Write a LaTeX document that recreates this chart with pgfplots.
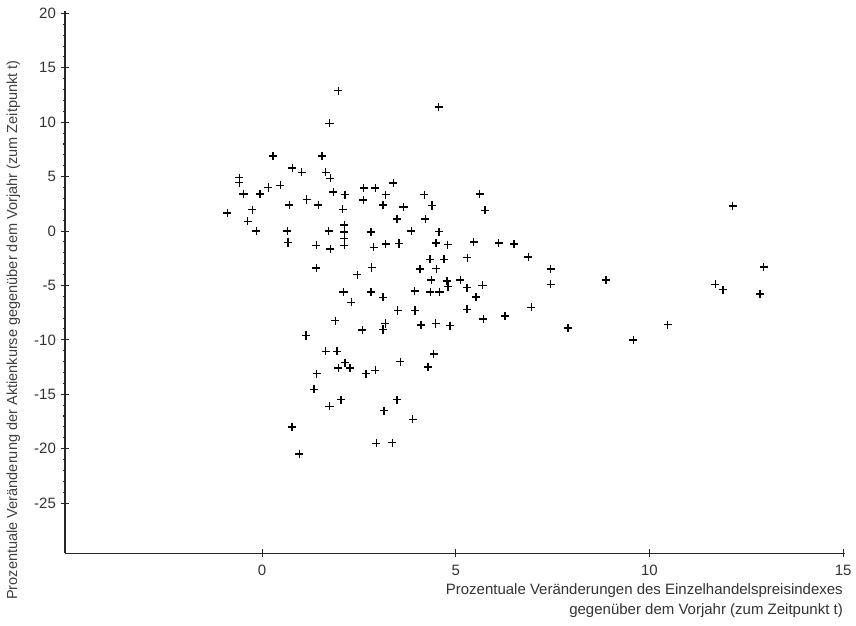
\documentclass[border=0pt]{standalone}
\usepackage{pgfplots}
\pgfplotsset{compat=1.18}
\usepackage{fontspec}
\setmainfont{Liberation Sans}
\pgfplotstableread{
x y
-0.90 1.65
-0.59 4.9
-0.59 4.45
-0.48 3.4
-0.37 0.9
-0.25 1.95
-0.15 0.0
-0.05 3.4
0.16 4.0
0.28 6.9
0.47 4.2
0.65 0.0
0.67 -1.05
0.70 2.4
0.78 5.8
1.02 5.4
1.15 2.9
1.40 -1.3
1.40 -3.4
1.45 2.4
1.55 6.9
1.64 5.4
1.72 0.0
1.74 9.9
1.76 4.85
1.76 -1.65
1.84 3.6
1.97 12.9
2.08 2.0
2.10 -5.6
2.12 0.55
2.12 -0.1
2.12 -0.7
2.12 -1.3
2.14 3.35
2.30 -6.55
2.46 -4.0
2.61 2.85
2.62 3.96
2.81 -0.1
2.81 -5.6
2.83 -3.35
2.88 -1.5
2.92 3.96
3.12 2.4
3.12 -6.1
3.19 3.35
3.19 -1.2
3.39 4.4
3.48 1.1
3.53 -1.15
3.65 2.2
3.85 0.0
3.94 -5.5
4.08 -3.5
4.19 3.35
4.21 1.1
4.33 -2.6
4.34 -5.6
4.37 -4.5
4.39 2.35
4.49 -1.1
4.50 -3.45
4.56 11.4
4.57 -0.05
4.58 -5.6
4.70 -2.6
4.77 -4.6
4.80 -5.1
4.79 -1.25
5.12 -4.5
5.29 -5.2
5.30 -2.45
5.46 -1.0
5.52 -6.05
5.62 3.4
5.69 -5.0
5.75 1.9
6.11 -1.1
6.50 -1.2
6.87 -2.4
7.45 -3.5
7.45 -4.9
8.88 -4.5
6.95 -7.0
6.27 -7.8
5.71 -8.1
7.90 -8.9
9.58 -10.0
10.47 -8.6
12.15 2.3
12.95 -3.3
11.70 -4.9
11.90 -5.4
12.85 -5.8
3.50 -7.3
3.95 -7.3
5.29 -7.2
1.89 -8.25
3.18 -8.5
2.59 -9.1
3.12 -9.05
4.10 -8.65
4.48 -8.5
4.85 -8.7
1.13 -9.6
1.64 -11.05
1.93 -11.05
4.43 -11.3
3.57 -12.0
4.28 -12.5
1.97 -12.6
2.14 -12.1
2.27 -12.6
1.41 -13.1
2.68 -13.1
2.92 -12.8
1.34 -14.55
1.74 -16.1
2.04 -15.5
3.48 -15.5
3.15 -16.5
3.89 -17.3
0.77 -18.0
2.95 -19.5
3.36 -19.45
0.96 -20.5
}\pts
\begin{document}
\begin{tikzpicture}
\begin{axis}[
 scale only axis, width=520pt, height=361.2pt,
 xmin=-5.09, xmax=15.05, ymin=-29.6, ymax=20.2,
 axis x line=bottom, axis y line=left,
 axis line style={-, line width=0.8pt, black!85},
 xtick={0,5,10,15}, ytick={-25,-20,...,20},
 minor y tick num=4,
 tick align=center,
 major tick length=5pt, minor tick length=2pt,
 tick style={black!85, line width=0.7pt},
 /pgf/number format/assume math mode=true,
 ticklabel style={font=\fontsize{10}{12}\selectfont, text=black!80},
 xticklabel style={yshift=-2pt},
 clip=false,
]
\addplot[only marks, mark=+, mark size=2.7pt, line width=0.9pt, black] table[x=x,y=y] {\pts};
\node[anchor=north east, align=right, inner sep=0pt, text=black!80,
      font=\fontsize{10}{13.3}\selectfont, yshift=-20pt] at (axis cs:15,-29.6)
  {Prozentuale Veränderungen des Einzelhandelspreisindexes\\gegenüber dem Vorjahr (zum Zeitpunkt t)};
\node[rotate=90, anchor=center, inner sep=0pt, text=black!75,
      font=\fontsize{9.7}{11}\selectfont] at (axis cs:-6.42,-9.1)
  {Prozentuale Veränderung der Aktienkurse gegenüber dem Vorjahr (zum Zeitpunkt t)};
\end{axis}
\pgfresetboundingbox
\path[use as bounding box] ([xshift=-43.3pt,yshift=-48pt]current axis.south west)
  rectangle ([xshift=527.3pt,yshift=368.7pt]current axis.south west);
\end{tikzpicture}
\end{document}
